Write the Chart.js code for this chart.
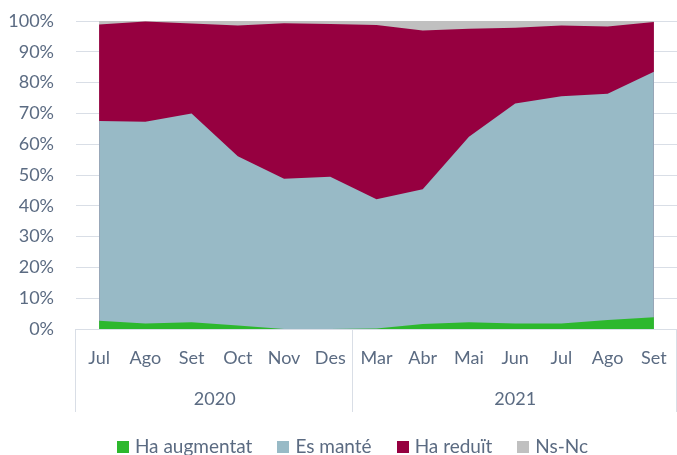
<!DOCTYPE html>
<html>
<head>
<meta charset="utf-8">
<script src="https://cdn.jsdelivr.net/npm/chart.js@4"></script>
<style>
  html, body { margin: 0; padding: 0; background: #fff; }
  #wrap { width: 677px; height: 455px; }
</style>
</head>
<body>
<div id="wrap"><canvas id="chart" width="677" height="455"></canvas></div>
<script>
// months and the year groups beneath them
const months = ['Jul', 'Ago', 'Set', 'Oct', 'Nov', 'Des', 'Mar', 'Abr', 'Mai', 'Jun', 'Jul', 'Ago', 'Set'];
const years = [
    { label: '2020', from: 0, to: 5 },
    { label: '2021', from: 6, to: 12 }
];

// shares in %
const haAugmentat = [2.7, 1.8, 2.2, 1.1, 0.0, 0.0, 0.2, 1.6, 2.2, 1.8, 1.8, 2.9, 3.8];
const esMante     = [64.8, 65.5, 67.8, 55.0, 48.8, 49.4, 41.9, 43.8, 60.2, 71.4, 73.8, 73.5, 79.7];
const haReduit    = [31.4, 32.5, 29.2, 42.4, 50.5, 49.6, 56.6, 51.5, 35.1, 24.6, 22.9, 21.8, 16.2];
const nsNc        = [1.1, 0.2, 0.8, 1.5, 0.7, 1.0, 1.3, 3.1, 2.5, 2.2, 1.5, 1.8, 0.3];

const textColor = '#5B6B82';
const lineColor = '#D9DEE6';
const fontFamily = 'Lato, "Open Sans", sans-serif';

// draws the two-level category box under the x axis
const yearAxis = {
    id: 'yearAxis',
    afterDraw(chart) {
        const ctx = chart.ctx;
        const x = chart.scales.x;
        const top = chart.chartArea.bottom;
        const half = (x.getPixelForValue(1) - x.getPixelForValue(0)) / 2;
        ctx.save();
        ctx.strokeStyle = lineColor;
        ctx.lineWidth = 1;
        const edges = [x.getPixelForValue(0) - half];
        years.forEach(y => edges.push(x.getPixelForValue(y.to) + half));
        edges.forEach(px => {
            ctx.beginPath();
            ctx.moveTo(Math.round(px) - 0.5, top);
            ctx.lineTo(Math.round(px) - 0.5, top + 83);
            ctx.stroke();
        });
        ctx.fillStyle = textColor;
        ctx.font = '18px ' + fontFamily;
        ctx.textAlign = 'center';
        ctx.textBaseline = 'middle';
        years.forEach(y => {
            const mid = (x.getPixelForValue(y.from) + x.getPixelForValue(y.to)) / 2;
            ctx.fillText(y.label, mid, top + 70);
        });
        ctx.restore();
    }
};

// legend row at the bottom, laid out like the original (slightly right of centre)
const bottomLegend = {
    id: 'bottomLegend',
    afterDraw(chart) {
        const ctx = chart.ctx;
        const sets = chart.data.datasets;
        const box = 12, toText = 18, gap = 25;
        ctx.save();
        ctx.font = '19px ' + fontFamily;
        ctx.textBaseline = 'middle';
        ctx.textAlign = 'left';
        const widths = sets.map(ds => ctx.measureText(ds.label).width);
        const total = widths.reduce((a, w) => a + w + toText, 0) + gap * (sets.length - 1);
        let x = chart.width / 2 + 14 - total / 2;
        const y = chart.height - 8.5;
        sets.forEach((ds, i) => {
            ctx.fillStyle = ds.backgroundColor;
            ctx.fillRect(Math.round(x), Math.round(y - box / 2), box, box);
            ctx.fillStyle = textColor;
            ctx.fillText(ds.label, x + toText, y);
            x += toText + widths[i] + gap;
        });
        ctx.restore();
    }
};

function makeSet(label, data, color) {
    return {
        label: label,
        data: data,
        backgroundColor: color,
        borderColor: color,
        borderWidth: 0,
        pointRadius: 0,
        fill: true,
        tension: 0
    };
}

new Chart(document.getElementById('chart'), {
    type: 'line',
    data: {
        labels: months,
        datasets: [
            makeSet('Ha augmentat', haAugmentat, '#2DB82D'),
            makeSet('Es manté', esMante, '#98BAC6'),
            makeSet('Ha reduït', haReduit, '#960040'),
            makeSet('Ns-Nc', nsNc, '#C0C0C0')
        ]
    },
    options: {
        responsive: false,
        animation: false,
        layout: { padding: { left: 4, right: -3, top: 21, bottom: 43 } },
        plugins: {
            legend: { display: false },
            tooltip: { enabled: false }
        },
        scales: {
            x: {
                offset: true,
                grid: { display: false },
                border: { display: true, color: lineColor },
                ticks: {
                    color: textColor,
                    font: { size: 18, family: fontFamily },
                    padding: 10,
                    maxRotation: 0,
                    autoSkip: false
                },
                afterFit(scale) {
                    scale.height = 83;
                    scale.paddingLeft = 0;
                    scale.paddingRight = 0;
                }
            },
            y: {
                stacked: true,
                min: 0,
                max: 100,
                grid: { color: lineColor, drawTicks: false },
                border: { display: false },
                ticks: {
                    stepSize: 10,
                    color: textColor,
                    font: { size: 18, family: fontFamily },
                    padding: 22,
                    callback: v => v + '%'
                },
                afterFit(scale) {
                    scale.width = 72;
                    scale.paddingTop = 0;
                    scale.paddingBottom = 0;
                }
            }
        }
    },
    plugins: [yearAxis, bottomLegend]
});
</script>
</body>
</html>
